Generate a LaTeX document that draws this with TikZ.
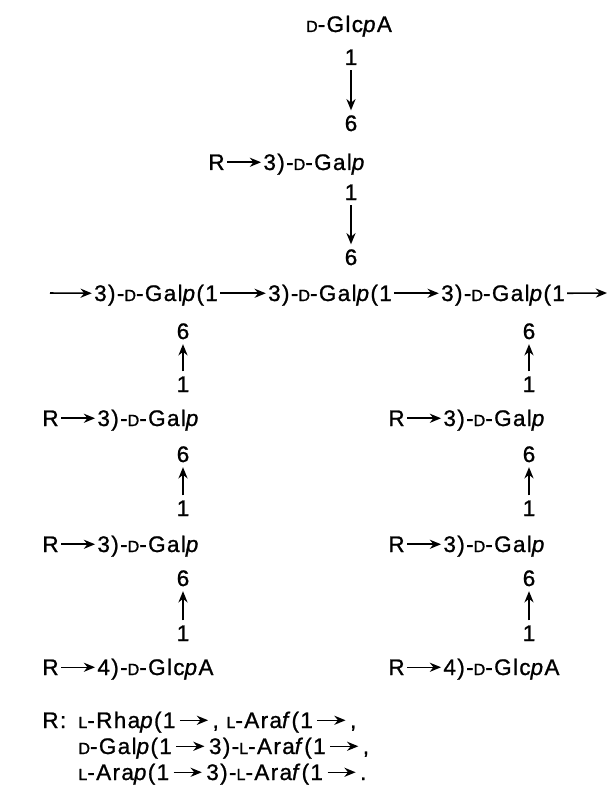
\documentclass[tikz,border=0pt]{standalone}
\usepackage{fontspec}
\usepackage{tikz}
\usetikzlibrary{arrows.meta,positioning}
\newfontfamily\chemfont{Liberation Sans}[LetterSpace=6,FakeBold=1]
\newcommand\sD{{\fontsize{11.5}{11.5}\selectfont D}}
\newcommand\sL{{\fontsize{11.5}{11.5}\selectfont L}}
\newcommand\lnk{\,\tikz[baseline=0pt]\draw[-{Stealth[length=8pt,width=6.5pt]},line width=1.1pt] (0pt,5.5pt)--(20pt,5.5pt);\,}

\begin{document}
\begin{tikzpicture}[x=0.025cm,y=-0.025cm,>={Stealth[length=8pt,width=6.5pt]},
  res/.style={font=\chemfont\fontsize{16}{18}\selectfont,inner sep=1.5pt,text height=13pt,text depth=2pt},
  bond/.style={->,line width=1.1pt},node distance=0.85cm]
\useasboundingbox (0,0) rectangle (616,800);

% upper side chain
\node[res,anchor=base] (glcT) at (349,32) {\sD-Glc\textit{p}A};
\node[res,anchor=base] (oneT) at (351,65) {1};
\node[res,anchor=base] (sixT) at (351,131) {6};
\draw[bond] (oneT) -- (sixT);
\node[res,anchor=base west] (RT) at (206,170) {R};
\node[res,right=of RT] (galT) {3)-\sD-Gal\textit{p}};
\draw[bond] (RT) -- (galT);
\node[res,anchor=base] (oneM) at (351,200) {1};
\node[res,anchor=base] (sixM) at (351,265) {6};
\draw[bond] (oneM) -- (sixM);

% backbone
\coordinate (m0) at (50,293);
\node[res,anchor=base] (u1) at (156,301) {3)-\sD-Gal\textit{p}(1};
\node[res,anchor=base] (u2) at (330,301) {3)-\sD-Gal\textit{p}(1};
\node[res,anchor=base] (u3) at (503,301) {3)-\sD-Gal\textit{p}(1};
\coordinate (m4) at (607,293);
\draw[bond] (m0) -- (u1.west);
\draw[bond] (u1.east) -- (u2.west);
\draw[bond] (u2.east) -- (u3.west);
\draw[bond] (u3.east) -- (m4);

% lower side chains
\foreach \ax/\sd in {183/l,529/r}{
  \node[res,anchor=base] (six\sd1) at (\ax,339) {6};
  \node[res,anchor=base] (one\sd1) at (\ax,392) {1};
  \draw[bond] (one\sd1) -- (six\sd1);
  \node[res,anchor=base west] (R\sd1) at (\ax-143,426) {R};
  \node[res,right=of R\sd1] (G\sd1) {3)-\sD-Gal\textit{p}};
  \draw[bond] (R\sd1) -- (G\sd1);
  \node[res,anchor=base] (six\sd2) at (\ax,462) {6};
  \node[res,anchor=base] (one\sd2) at (\ax,516) {1};
  \draw[bond] (one\sd2) -- (six\sd2);
  \node[res,anchor=base west] (R\sd2) at (\ax-143,552) {R};
  \node[res,right=of R\sd2] (G\sd2) {3)-\sD-Gal\textit{p}};
  \draw[bond] (R\sd2) -- (G\sd2);
  \node[res,anchor=base] (six\sd3) at (\ax,586) {6};
  \node[res,anchor=base] (one\sd3) at (\ax,641) {1};
  \draw[bond] (one\sd3) -- (six\sd3);
  \node[res,anchor=base west] (R\sd3) at (\ax-143,675) {R};
  \node[res,right=of R\sd3] (G\sd3) {4)-\sD-Glc\textit{p}A};
  \draw[bond] (R\sd3) -- (G\sd3);
}

% key to R
\node[res,anchor=base west] (key) at (40,728) {R:};
\node[res,anchor=base west] (lst1) at (76,728) {\sL-Rha\textit{p}(1\lnk, \sL-Ara\textit{f}(1\lnk,};
\node[res,anchor=base west] (lst2) at (76,754) {\sD-Gal\textit{p}(1\lnk3)-\sL-Ara\textit{f}(1\lnk,};
\node[res,anchor=base west] (lst3) at (76,780) {\sL-Ara\textit{p}(1\lnk3)-\sL-Ara\textit{f}(1\lnk.};
\end{tikzpicture}
\end{document}
